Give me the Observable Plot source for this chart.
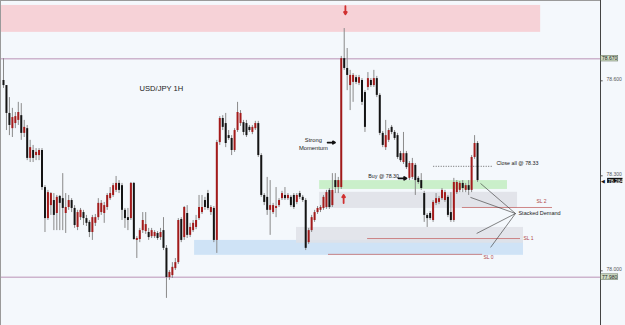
<!DOCTYPE html>
<html><head><meta charset="utf-8">
<script src="https://cdn.jsdelivr.net/npm/d3@7"></script>
<script src="https://cdn.jsdelivr.net/npm/@observablehq/plot@0.6"></script>
<style>body{margin:0;background:#f4f8fc;} svg{display:block}</style>
</head><body><div id="chart"></div>
<script>
// USD/JPY 1H candles (index, open, high, low, close)
const opens = [78.601,78.585,78.497,78.449,78.465,78.475,78.490,78.434,78.449,78.355,78.380,78.364,78.364,78.380,78.263,78.165,78.206,78.222,78.181,78.235,78.228,78.181,78.200,78.222,78.197,78.137,78.168,78.184,78.165,78.153,78.121,78.150,78.168,78.184,78.181,78.200,78.228,78.238,78.254,78.276,78.269,78.191,78.168,78.165,78.276,78.096,78.099,78.127,78.124,78.121,78.108,78.108,78.118,78.105,78.127,78.071,77.979,77.985,78.007,78.026,78.162,78.105,78.181,78.112,78.127,78.137,78.165,78.184,78.222,78.244,78.184,78.197,78.096,78.405,78.481,78.465,78.427,78.418,78.380,78.443,78.465,78.468,78.465,78.453,78.437,78.449,78.465,78.364,78.238,78.232,78.191,78.184,78.197,78.206,78.228,78.238,78.228,78.232,78.238,78.216,78.244,78.232,78.222,78.089,78.127,78.159,78.184,78.191,78.197,78.200,78.254,78.206,78.285,78.263,78.263,78.670,78.639,78.585,78.595,78.610,78.592,78.601,78.563,78.579,78.601,78.585,78.607,78.554,78.434,78.389,78.412,78.453,78.437,78.427,78.370,78.342,78.370,78.292,78.295,78.333,78.292,78.285,78.244,78.175,78.181,78.159,78.213,78.216,78.228,78.222,78.232,78.184,78.159,78.247,78.254,78.276,78.254,78.269,78.254,78.358,78.402];
const highs = [78.670,78.585,78.547,78.513,78.500,78.532,78.528,78.475,78.459,78.412,78.396,78.386,78.386,78.386,78.269,78.254,78.247,78.244,78.238,78.238,78.307,78.244,78.238,78.228,78.206,78.191,78.197,78.191,78.175,78.159,78.175,78.178,78.228,78.222,78.216,78.244,78.263,78.276,78.298,78.285,78.276,78.197,78.197,78.279,78.279,78.108,78.134,78.184,78.184,78.134,78.134,78.127,78.124,78.134,78.168,78.080,78.001,78.026,78.039,78.165,78.168,78.203,78.206,78.150,78.159,78.175,78.238,78.238,78.232,78.254,78.206,78.203,78.412,78.487,78.490,78.497,78.443,78.427,78.449,78.532,78.506,78.475,78.475,78.459,78.459,78.472,78.472,78.370,78.244,78.295,78.285,78.213,78.263,78.228,78.251,78.263,78.244,78.238,78.244,78.244,78.251,78.238,78.228,78.134,78.175,78.191,78.203,78.206,78.238,78.254,78.260,78.307,78.307,78.295,78.677,78.765,78.702,78.633,78.623,78.617,78.617,78.607,78.569,78.626,78.607,78.633,78.614,78.560,78.440,78.475,78.449,78.459,78.443,78.434,78.377,78.437,78.377,78.345,78.355,78.339,78.298,78.307,78.251,78.181,78.187,78.222,78.244,78.235,78.260,78.254,78.238,78.247,78.292,78.285,78.282,78.285,78.276,78.285,78.364,78.427,78.408];
const lows = [78.576,78.443,78.427,78.421,78.449,78.459,78.412,78.421,78.348,78.342,78.342,78.348,78.348,78.254,78.121,78.159,78.175,78.127,78.127,78.127,78.127,78.118,78.191,78.184,78.134,78.127,78.159,78.143,78.140,78.105,78.096,78.140,78.159,78.175,78.150,78.191,78.222,78.232,78.247,78.244,78.159,78.134,78.127,78.159,78.096,78.039,78.089,78.118,78.115,78.096,78.102,78.102,78.096,78.096,78.064,77.913,77.970,77.976,78.001,78.020,78.089,78.096,78.102,78.105,78.121,78.130,78.159,78.178,78.191,78.191,78.175,78.089,78.055,78.396,78.443,78.389,78.412,78.364,78.374,78.437,78.456,78.427,78.421,78.437,78.430,78.443,78.358,78.232,78.206,78.175,78.112,78.178,78.168,78.200,78.222,78.222,78.222,78.200,78.194,78.209,78.225,78.216,78.064,78.083,78.121,78.153,78.178,78.184,78.191,78.194,78.194,78.200,78.244,78.244,78.257,78.633,78.569,78.506,78.532,78.588,78.585,78.522,78.437,78.569,78.579,78.579,78.547,78.427,78.389,78.380,78.405,78.430,78.412,78.352,78.342,78.336,78.320,78.285,78.288,78.238,78.273,78.254,78.153,78.137,78.159,78.153,78.206,78.209,78.222,78.216,78.168,78.153,78.153,78.241,78.247,78.247,78.247,78.238,78.247,78.352,78.279];
const closes = [78.585,78.497,78.459,78.484,78.487,78.500,78.434,78.453,78.355,78.389,78.355,78.374,78.380,78.263,78.165,78.247,78.244,78.175,78.232,78.213,78.197,78.200,78.222,78.197,78.143,78.184,78.191,78.165,78.150,78.121,78.168,78.168,78.213,78.213,78.206,78.238,78.244,78.269,78.276,78.254,78.191,78.165,78.159,78.276,78.099,78.102,78.127,78.159,78.146,78.105,78.127,78.121,78.102,78.121,78.071,77.979,77.995,78.011,78.026,78.159,78.096,78.200,78.112,78.137,78.150,78.159,78.200,78.200,78.200,78.197,78.200,78.096,78.405,78.481,78.453,78.402,78.418,78.380,78.443,78.500,78.497,78.437,78.427,78.443,78.453,78.465,78.364,78.238,78.216,78.191,78.206,78.206,78.203,78.222,78.244,78.228,78.238,78.206,78.200,78.238,78.232,78.222,78.071,78.127,78.168,78.184,78.197,78.200,78.232,78.247,78.200,78.254,78.263,78.285,78.670,78.639,78.617,78.617,78.617,78.595,78.610,78.532,78.453,78.607,78.585,78.607,78.554,78.434,78.396,78.427,78.443,78.437,78.418,78.358,78.348,78.370,78.326,78.339,78.339,78.285,78.279,78.260,78.175,78.165,78.165,78.216,78.228,78.228,78.254,78.247,78.175,78.159,78.279,78.279,78.276,78.260,78.269,78.254,78.358,78.402,78.285];

// price levels
const levelLines = [78.670, 77.980];
const axisTicks = [78.0, 78.3, 78.6];
const lastPrice = 78.284;
const buyPrice = 78.30;
const closePrice = 78.33;
const supplyZone = [78.753, 78.838];
const buyZone = [78.257, 78.285];
const demand2 = [78.197, 78.248];
const demand1 = [78.087, 78.137];
const demand0 = [78.049, 78.096];
const sl = [{name: "SL 2", price: 78.200}, {name: "SL 1", price: 78.102}, {name: "SL 0", price: 78.052}];

const candles = opens.map((o, i) => ({i, o, h: highs[i], l: lows[i], c: closes[i], up: closes[i] >= o}));
const XMAX = 201.5;
const fmt = d3.format(".3f");
const FONT = "Liberation Sans, Arial, sans-serif";

const chart = Plot.plot({
  width: 625, height: 325,
  marginTop: 0, marginBottom: 0, marginLeft: 0, marginRight: 25,
  style: {background: "#f4f8fc", fontFamily: FONT, overflow: "visible"},
  x: {domain: [-1.01, XMAX], axis: null},
  y: {domain: [77.8274, 78.8536], axis: null},
  marks: [
    // zones
    Plot.rect([supplyZone], {x1: -1.01, x2: 181.3, y1: d => d[0], y2: d => d[1], fill: "#f6d2d7"}),
    Plot.rect([demand0], {x1: 64.5, x2: 175.5, y1: d => d[0], y2: d => d[1], fill: "#cfe3f6"}),
    Plot.rect([demand1], {x1: 98.9, x2: 175.5, y1: d => d[0], y2: d => d[1], fill: "#dfe2e8", fillOpacity: 0.85}),
    Plot.rect([demand2], {x1: 106.7, x2: 173.5, y1: d => d[0], y2: d => d[1], fill: "#e2e4ea"}),
    Plot.rect([buyZone], {x1: 106.7, x2: 170.1, y1: d => d[0], y2: d => d[1], fill: "#caefca"}),
    // level lines
    Plot.ruleY(levelLines, {x1: -1.01, x2: XMAX, stroke: "#cdb4cd", strokeWidth: 1.5}),
    // SL lines
    Plot.ruleY([sl[0]], {y: "price", x1: 154.9, x2: 185.3, stroke: "#c46a6a", strokeWidth: 0.8}),
    Plot.ruleY([sl[1]], {y: "price", x1: 122.9, x2: 174.5, stroke: "#c46a6a", strokeWidth: 0.8}),
    Plot.ruleY([sl[2]], {y: "price", x1: 109.7, x2: 161.7, stroke: "#c46a6a", strokeWidth: 0.8}),
    // candles
    Plot.ruleX(candles, {x: "i", y1: "l", y2: "h", stroke: "#8a8a8a", strokeWidth: 1}),
    Plot.ruleX(candles, {x: "i", y1: "o", y2: "c", stroke: d => d.up ? "#a31a1a" : "#141414", strokeWidth: 2}),
    // close-all dotted line
    Plot.ruleY([closePrice], {x1: 145.2, x2: 165.4, stroke: "#444", strokeDasharray: "1,1.5", strokeWidth: 0.8}),
    // stacked demand pointers
    Plot.link([[161.0, 78.276], [157.6, 78.232], [159.7, 78.118], [164.4, 78.074]], {x1: 172.8, y1: 78.181, x2: d => d[0], y2: d => d[1], stroke: "#333", strokeWidth: 0.6}),
    // texts
    Plot.text(["USD/JPY 1H"], {x: 53.3, y: 78.576, fontSize: 7.6, fill: "#222"}),
    Plot.text(["Strong\nMomentum"], {x: 104.6, y: 78.402, fontSize: 5.8, lineHeight: 1.35, fill: "#222"}),
    Plot.text([`Buy @ ${buyPrice.toFixed(2)}`], {x: 128.3, y: 78.298, fontSize: 5.3, fill: "#222"}),
    Plot.text([`Close all @ ${closePrice.toFixed(2)}`], {x: 166.4, y: 78.339, fontSize: 5.3, textAnchor: "start", fill: "#222"}),
    Plot.text(["Stacked Demand"], {x: 173.8, y: 78.181, fontSize: 5.5, textAnchor: "start", fill: "#222"}),
    Plot.text([sl[0]], {x: 181.6, y: d => d.price + 0.019, text: "name", fontSize: 5, fill: "#b04848"}),
    Plot.text([sl[1]], {x: 177.2, y: "price", text: "name", fontSize: 5, fill: "#b04848"}),
    Plot.text([sl[2]], {x: 163.7, y: d => d.price - 0.01, text: "name", fontSize: 5, fill: "#b04848"}),
    // arrows
    Plot.arrow([0], {x1: 109.4, x2: 111.9, y1: 78.405, y2: 78.405, stroke: "#111", strokeWidth: 1.8, headLength: 4}),
    Plot.arrow([0], {x1: 133.3, x2: 136.0, y1: 78.292, y2: 78.292, stroke: "#111", strokeWidth: 1.8, headLength: 4}),
    Plot.arrow([0], {x1: 115.4, x2: 115.4, y1: 78.836, y2: 78.810, stroke: "#d03030", strokeWidth: 1.8, headLength: 4}),
    Plot.arrow([0], {x1: 114.8, x2: 114.8, y1: 78.214, y2: 78.240, stroke: "#d03030", strokeWidth: 1.8, headLength: 4}),
    // frame and right axis
    Plot.frame({stroke: "#9a9a9a"}),
    Plot.ruleX([XMAX], {stroke: "#444"}),
    Plot.ruleY(axisTicks, {x1: XMAX + 0.2, x2: XMAX + 0.9, stroke: "#555"}),
    Plot.text(axisTicks, {x: XMAX, y: d => d, text: d => fmt(d), dx: 6, dy: -1, textAnchor: "start", fontSize: 5, fill: "#555"}),
    Plot.rect(levelLines, {x1: XMAX + 0.25, x2: XMAX + 6.0, y1: d => d - 0.009, y2: d => d + 0.009, fill: "#cfdcc4", stroke: "#5d6b55", strokeWidth: 0.5}),
    Plot.text(levelLines, {x: XMAX + 0.5, y: d => d, text: d => fmt(d), textAnchor: "start", fontSize: 5, fill: "#222"}),
    Plot.rect([lastPrice], {x1: XMAX + 2.4, x2: XMAX + 7.6, y1: d => d - 0.008, y2: d => d + 0.008, fill: "#111"}),
    Plot.text([lastPrice], {x: XMAX + 0.3, y: d => d, text: ["◀"], textAnchor: "start", fontSize: 5, fill: "#111"}),
    Plot.text([lastPrice], {x: XMAX + 2.55, y: d => d, text: d => fmt(d), textAnchor: "start", fontSize: 5, fill: "#fff"})
  ]
});
document.getElementById("chart").appendChild(chart);
</script>
</body></html>
